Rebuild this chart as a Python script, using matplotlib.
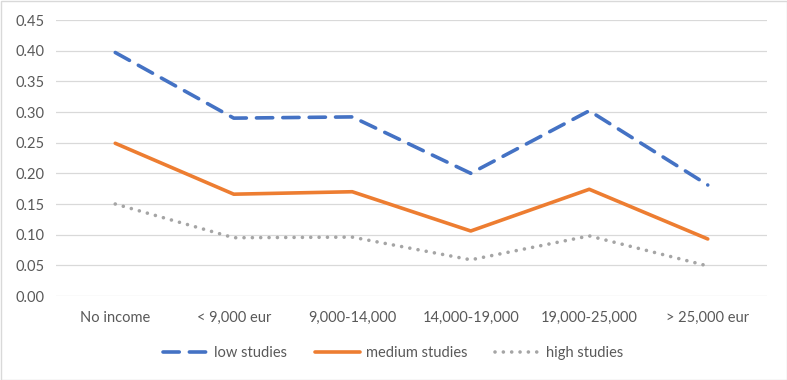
import matplotlib
matplotlib.use("Agg")
import matplotlib.pyplot as plt
from matplotlib.patches import Rectangle

categories = ["No income", "< 9,000 eur", "9,000-14,000", "14,000-19,000", "19,000-25,000", "> 25,000 eur"]
low_studies = [0.397, 0.290, 0.292, 0.200, 0.302, 0.181]
medium_studies = [0.249, 0.166, 0.170, 0.106, 0.174, 0.093]
high_studies = [0.150, 0.095, 0.096, 0.059, 0.098, 0.049]
yticks = [0.00, 0.05, 0.10, 0.15, 0.20, 0.25, 0.30, 0.35, 0.40, 0.45]

plt.rcParams['font.family'] = ['Lato', 'DejaVu Sans']
txt = '#595959'

fig = plt.figure(figsize=(7.87, 3.80), dpi=100)
ax = fig.add_axes([56/787, 1-296/380, (767-56)/787, (296-20)/380])

x = list(range(len(categories)))
l1, = ax.plot(x, low_studies, color='#4472C4', lw=2.6, dashes=(4.5, 2.8), dash_capstyle='round', label='low studies')
l2, = ax.plot(x, medium_studies, color='#ED7D31', lw=2.6, solid_capstyle='round', label='medium studies')
l3, = ax.plot(x, high_studies, color='#A5A5A5', lw=2.6, dashes=(0.01, 2.3), dash_capstyle='round', label='high studies')

ax.set_xlim(-0.5, len(categories) - 0.5)
ax.set_ylim(0, 0.45)
ax.set_yticks(yticks)
ax.set_yticklabels([f"{v:.2f}" for v in yticks])
ax.set_xticks(x)
ax.set_xticklabels(categories)
ax.grid(axis='y', color='#D9D9D9', lw=0.9)
ax.set_axisbelow(True)
for s in ax.spines.values():
    s.set_visible(False)
ax.tick_params(length=0, labelsize=10.5, colors=txt, pad=8)
ax.tick_params(axis='x', pad=11)

leg = fig.legend(handles=[l1, l2, l3], loc='center', bbox_to_anchor=(0.5, 1-353/380), ncol=3,
                 frameon=False, fontsize=10.5, handlelength=3.1, columnspacing=1.9, handletextpad=0.4)
for t in leg.get_texts():
    t.set_color(txt)

fig.patches.append(Rectangle((0.5/787, 0.5/380), 1-1/787, 1-1/380, transform=fig.transFigure,
                             fill=False, edgecolor='#D9D9D9', lw=1))
fig.savefig('out.png', dpi=100)
